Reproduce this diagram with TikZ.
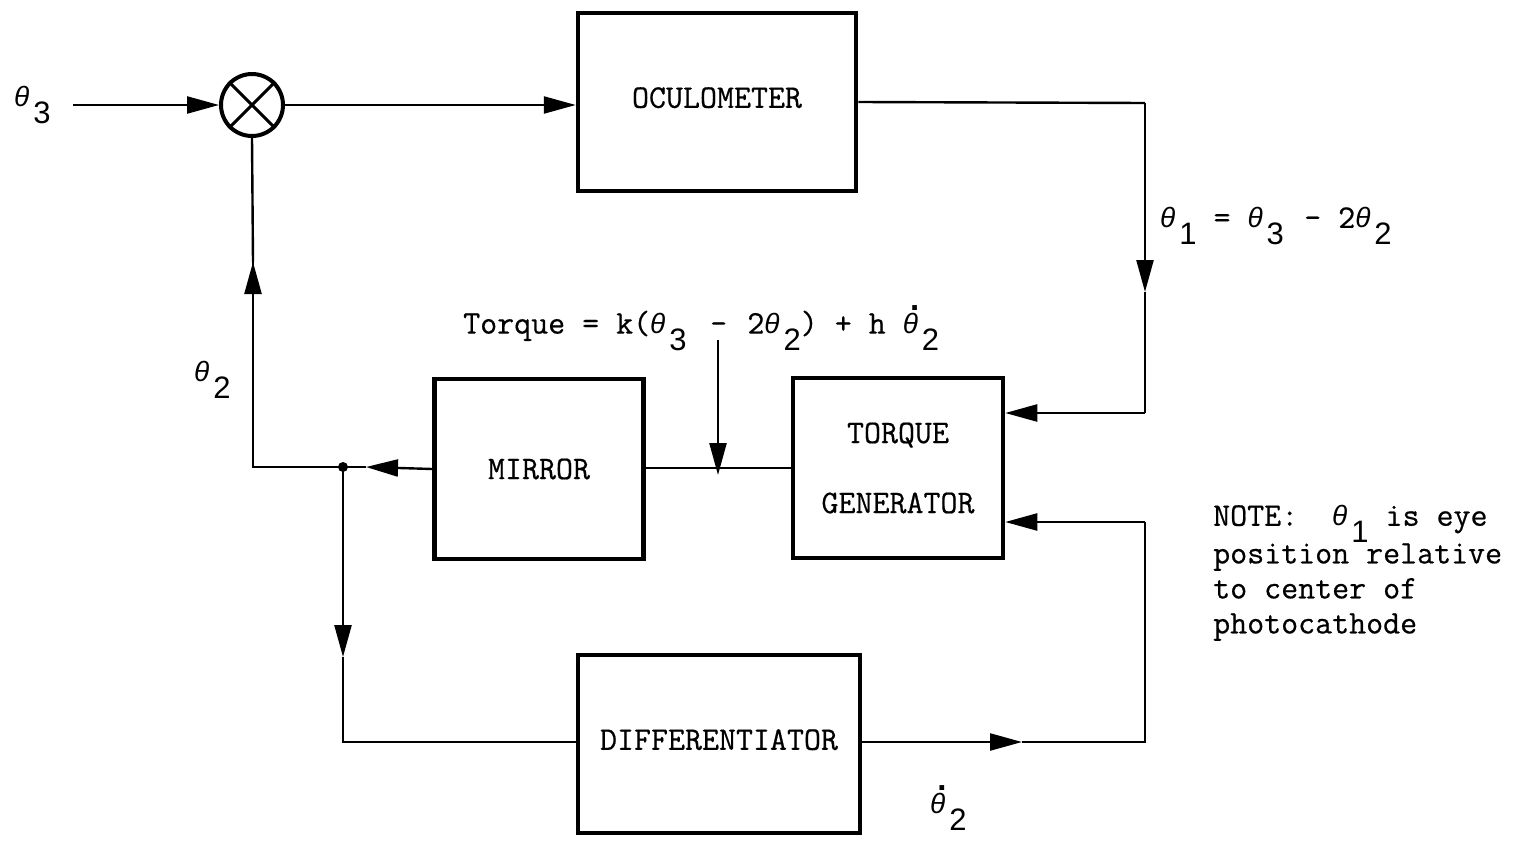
\documentclass[tikz,border=0pt]{standalone}
\usepackage{fontspec}
\newfontfamily\tw[FakeBold=0.5]{Latin Modern Mono}
\newfontfamily\symf{Liberation Sans}
\usetikzlibrary{arrows.meta}
\newcommand\thv{{\symf\itshape\fontsize{28}{30}\selectfont θ}}
\newcommand\sbx[1]{\kern0.12em\raisebox{-0.5em}{\symf\fontsize{31}{33}\selectfont #1}}
\newcommand\thd{\rlap{\raisebox{0.7em}{\kern0.22em\symf\bfseries .}}\thv}
\tikzset{
  blk/.style={draw, line width=4.5pt, inner sep=0pt, align=center},
  conn/.style={line width=2.4pt},
  arr/.style={line width=2.4pt, -{Triangle[length=32pt,width=17pt]}},
  lbl/.style={inner sep=0pt, anchor=west},
}
\begin{document}
\begin{tikzpicture}[x=1pt,y=-1pt,font=\tw\fontsize{33}{36}\selectfont]
\useasboundingbox (0,0) rectangle (1537,843);
% blocks
\node[blk, minimum width=278pt, minimum height=178pt] (ocu) at (717,102) {\raisebox{9pt}{OCULOMETER}};
\node[blk, minimum width=210pt, minimum height=180pt] (tg) at (898,468) {TORQUE\\[34pt]GENERATOR};
\node[blk, minimum width=209pt, minimum height=180pt] (mir) at (539,469) {MIRROR};
\node[blk, minimum width=282pt, minimum height=178pt] (dif) at (719,744) {\raisebox{9pt}{DIFFERENTIATOR}};
% summing junction
\node[draw, circle, line width=4pt, minimum size=62pt, inner sep=0pt] (sum) at (252,105) {};
\draw[line width=3pt] (sum.north west) -- (sum.south east) (sum.north east) -- (sum.south west);
% coordinates
\coordinate (in) at (73,105);
\coordinate (r1) at (1145,103);
\coordinate (r1m) at (1145,292);
\coordinate (r2) at (1145,413);
\coordinate (tq) at (718,340);
\coordinate (mj) at (366,467);
\coordinate (j) at (343,467);
\coordinate (c2) at (253,467);
\coordinate (mu) at (253,262);
\coordinate (md) at (343,657);
\coordinate (c3) at (343,742);
\coordinate (mr) at (1022,742);
\coordinate (c4) at (1145,742);
\coordinate (c5) at (1145,522);
% connectors
\draw[arr] (in) -- (sum.west);
\draw[arr] (sum.east) -- (sum.east -| ocu.west);
\draw[conn] (ocu.east) -- (r1);
\draw[arr] (r1) -- (r1m);
\draw[conn] (r1m) -- (r2);
\draw[arr] (r2) -- (tg.east |- r2);
\draw[conn] (tg.west) -- (tg.west -| mir.east);
\draw[arr] (tq) -- ([yshift=-6pt]tq |- mir.east);
\draw[arr] (mir.west) -- (mj);
\draw[conn] (mj) -- (j) -- (c2) -- (mu);
\draw[arr] (c2) -- (mu);
\draw[conn] (mu) -- (sum.south);
\draw[arr] (j) -- (md);
\draw[conn] (md) -- (c3) -- (c3 -| dif.west);
\draw[arr] (dif.east |- c3) -- (mr);
\draw[conn] (mr) -- (c4) -- (c5);
\draw[arr] (c5) -- (tg.east |- c5);
\fill (j) circle (5pt);
% labels
\node[lbl] (l3) at (14,105) {\thv\sbx{3}};
\node[lbl] (lt1) at (1160,226) {\thv\sbx{1} = \thv\sbx{3}\kern0.1em{} - 2\thv\sbx{2}};
\node[lbl] (ltq) at (463,328) {Torque = k(\thv\sbx{3}\kern0.2em{} - \kern0.1em2\thv\sbx{2}) + h \thd\sbx{2}};
\node[lbl] (l2) at (194,380) {\thv\sbx{2}};
\node[lbl] (ld) at (930,808) {\thd\sbx{2}};
\node[lbl, anchor=north west, align=left, font=\tw\fontsize{33}{35}\selectfont] (note) at (1213,505) {NOTE:\ \ \thv\sbx{1} is eye\\position relative\\to center of\\photocathode};
\end{tikzpicture}
\end{document}
